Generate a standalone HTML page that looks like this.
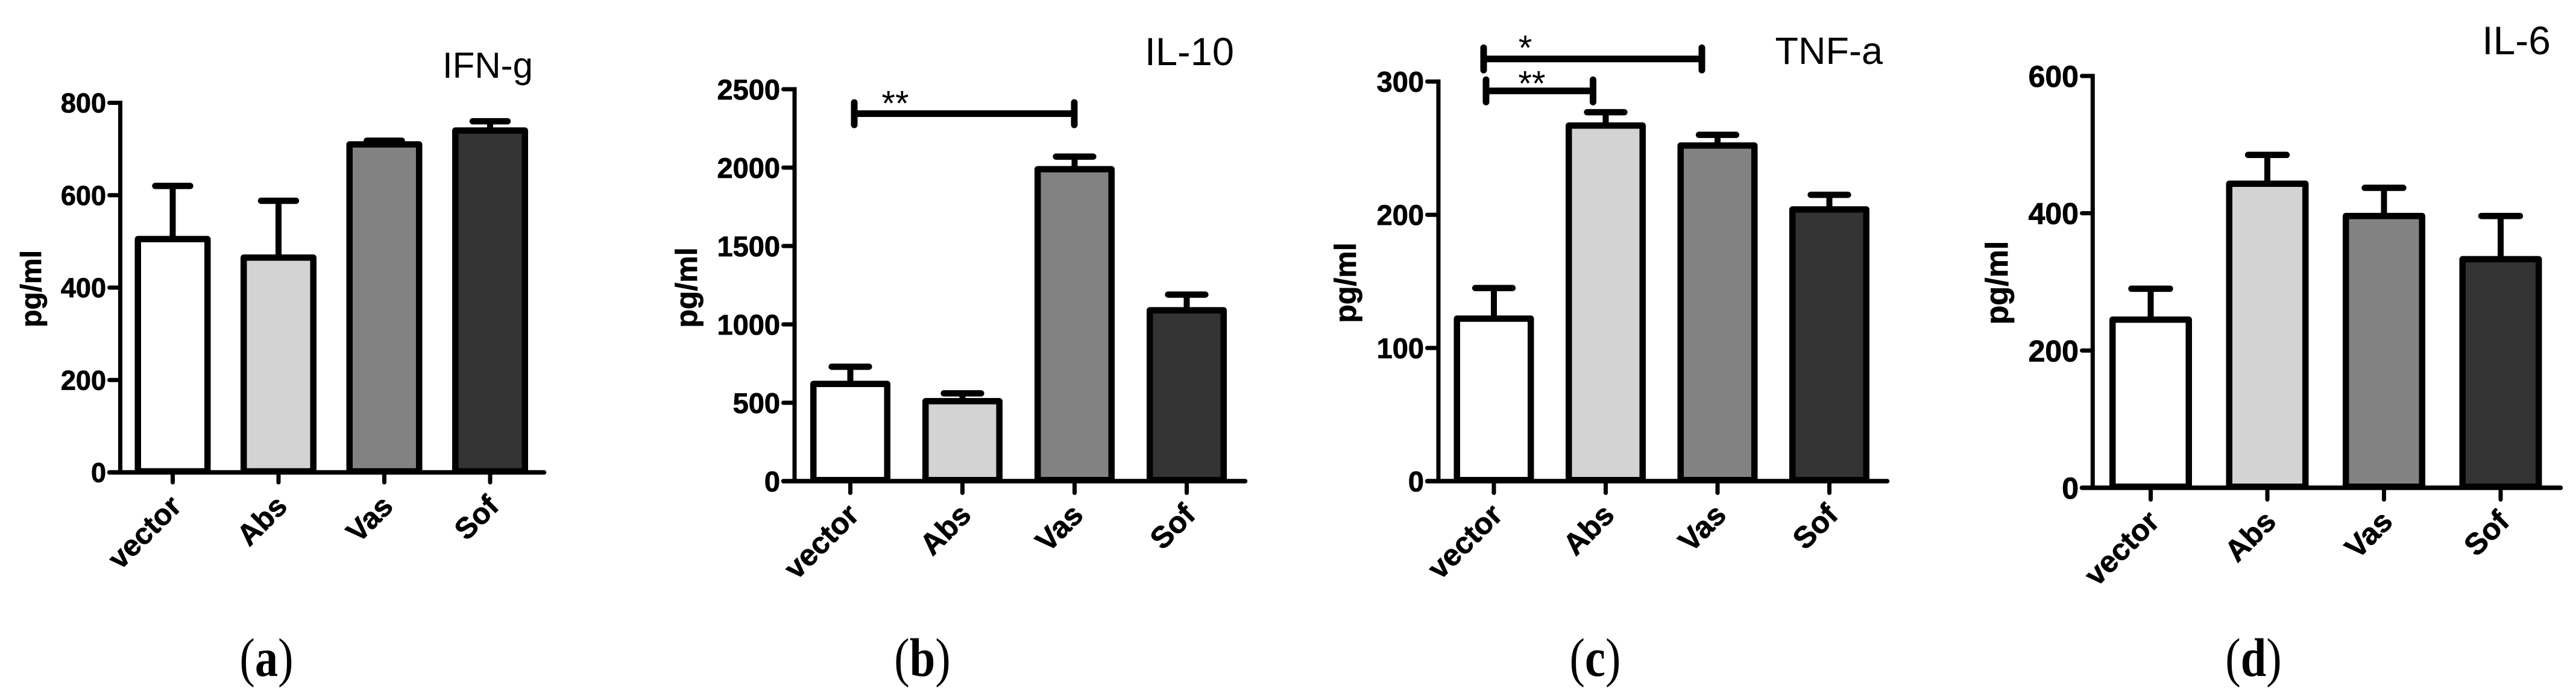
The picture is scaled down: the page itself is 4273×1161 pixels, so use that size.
<!DOCTYPE html>
<html lang="en">
<head>
<meta charset="utf-8">
<title>Cytokine levels</title>
<style>
html,body{margin:0;padding:0;background:#fff;width:4273px;height:1161px;overflow:hidden}
svg{display:block}
.tick,.ylab,.cat{font-family:"Liberation Sans",sans-serif;font-weight:bold;fill:#000;stroke:#000;stroke-width:0.8px}
.title{font-family:"Liberation Sans",sans-serif;fill:#000}
.star{font:58px "Liberation Sans",sans-serif;fill:#000}
.panel{font:90px "Liberation Serif",serif;fill:#000}
</style>
</head>
<body>
<svg id="figure" xmlns="http://www.w3.org/2000/svg" width="4273" height="1161" viewBox="0 0 4273 1161">
  <rect width="4273" height="1161" fill="#ffffff"/>
  <text class="panel" text-anchor="middle" transform="translate(442 1121) scale(0.85 1)">(<tspan font-weight="bold">a</tspan>)</text>
  <text class="panel" text-anchor="middle" transform="translate(1530 1121) scale(0.85 1)">(<tspan font-weight="bold">b</tspan>)</text>
  <text class="panel" text-anchor="middle" transform="translate(2646 1121) scale(0.85 1)">(<tspan font-weight="bold">c</tspan>)</text>
  <text class="panel" text-anchor="middle" transform="translate(3738 1121) scale(0.85 1)">(<tspan font-weight="bold">d</tspan>)</text>
</svg>
<script>
// Shared data
const categories = ['vector', 'Abs', 'Vas', 'Sof'];

const ifnValues = [505, 465, 710, 740];
const ifnErrors = [620, 588, 718, 760];
const ifnTicks = [0, 200, 400, 600, 800];

const il10Values = [620, 510, 1990, 1090];
const il10Errors = [730, 560, 2070, 1190];
const il10Ticks = [0, 500, 1000, 1500, 2000, 2500];

const tnfValues = [122, 267, 252, 204];
const tnfErrors = [145, 277, 260, 215];
const tnfTicks = [0, 100, 200, 300];

const il6Values = [245, 443, 396, 333];
const il6Errors = [290, 485, 437, 396];
const il6Ticks = [0, 200, 400, 600];

const il10Brackets = [{ from: 0, to: 2, level: 2344, label: '**' }];
const tnfBrackets = [
  { from: 0, to: 2, level: 317, label: '*' },
  { from: 0, to: 1, level: 293, label: '**' }
];

// Layout and style (kept apart from the data)
const barFills = ['#ffffff', '#d3d3d3', '#828282', '#333333'];
const il10BracketLayout = [{ dx1: 6.5, dx2: -0.5, labelDx: 68, labelDy: 3 }];
const tnfBracketLayout = [
  { dx1: -17, dx2: -26, labelDx: 69, labelDy: 2 },
  { dx1: -13, dx2: -21, labelDx: 76, labelDy: 7.5 }
];
const panels = [
  { key: 'ifn-g', title: 'IFN-g', values: ifnValues, errors: ifnErrors, ticks: ifnTicks, brackets: [], bracketLayout: [],
    axisX: 199.5, y0: 783.5, yTop: 170.5, xStart: 178, xEnd: 906, cat0: 286.5, catStep: 175.5, barW: 126, tickLen: 20,
    tickFont: 45, catFont: 49, ylabFont: 48, titleFont: 60,
    titleX: 884, titleY: 129, ylabX: 68, ylabY: 479 },
  { key: 'il-10', title: 'IL-10', values: il10Values, errors: il10Errors, ticks: il10Ticks, brackets: il10Brackets, bracketLayout: il10BracketLayout,
    axisX: 1318, y0: 798, yTop: 148, xStart: 1296, xEnd: 2069, cat0: 1410.5, catStep: 186, barW: 133, tickLen: 23,
    tickFont: 47, catFont: 50, ylabFont: 50, titleFont: 65,
    titleX: 2047, titleY: 108, ylabX: 1156, ylabY: 477 },
  { key: 'tnf-a', title: 'TNF-a', values: tnfValues, errors: tnfErrors, ticks: tnfTicks, brackets: tnfBrackets, bracketLayout: tnfBracketLayout,
    axisX: 2386, y0: 798, yTop: 135.3, xStart: 2364, xEnd: 3134, cat0: 2478, catStep: 185.5, barW: 133, tickLen: 23,
    tickFont: 47, catFont: 50, ylabFont: 50, titleFont: 63,
    titleX: 3123, titleY: 106, ylabX: 2249, ylabY: 469 },
  { key: 'il-6', title: 'IL-6', values: il6Values, errors: il6Errors, ticks: il6Ticks, brackets: [], bracketLayout: [],
    axisX: 3471.3, y0: 809, yTop: 126, xStart: 3450, xEnd: 4251, cat0: 3567.5, catStep: 193.5, barW: 137, tickLen: 23,
    tickFont: 50, catFont: 50, ylabFont: 52, titleFont: 66,
    titleX: 4231, titleY: 90, ylabX: 3330, ylabY: 469 }
];

const SVG_NS = 'http://www.w3.org/2000/svg';
const figure = document.getElementById('figure');

function make(parent, tag, attrs) {
  const el = document.createElementNS(SVG_NS, tag);
  for (const k in attrs) el.setAttribute(k, attrs[k]);
  parent.appendChild(el);
  return el;
}

function drawPanel(p) {
  const maxTick = p.ticks[p.ticks.length - 1];
  const yScale = v => p.y0 - (v / maxTick) * (p.y0 - p.yTop);
  const xScale = i => p.cat0 + i * p.catStep;
  const barStroke = 10.5;
  const capHalf = p.barW * 0.27 - 5;

  const g = make(figure, 'g', {});
  
  

  // Error bars sit behind the bars
  p.values.forEach((v, i) => {
    const stem = make(g, 'line', { x1: xScale(i), x2: xScale(i), y1: yScale(v), y2: yScale(p.errors[i]), stroke: '#000', 'stroke-width': 10 });
    
    
    const cap = make(g, 'line', { x1: xScale(i) - capHalf, x2: xScale(i) + capHalf, y1: yScale(p.errors[i]), y2: yScale(p.errors[i]), stroke: '#000', 'stroke-width': 10.5, 'stroke-linecap': 'round' });
    
    
  });

  // Bars
  p.values.forEach((v, i) => {
    const top = yScale(v);
    const bottom = p.y0 - 1.75;
    const bar = make(g, 'rect', { x: xScale(i) - p.barW / 2 + barStroke / 2, y: top, width: p.barW - barStroke, height: bottom - top, fill: barFills[i], stroke: '#000', 'stroke-width': barStroke, 'stroke-linejoin': 'round' });
    
    
  });

  // Y axis
  const yAxis = make(g, 'line', { x1: p.axisX, x2: p.axisX, y1: yScale(maxTick) - 3.5, y2: p.y0, stroke: '#000', 'stroke-width': 7 });
  
  
  p.ticks.forEach(t => {
    const mark = make(g, 'line', { x1: p.xStart + 3.5, x2: p.axisX, y1: yScale(t), y2: yScale(t), stroke: '#000', 'stroke-width': 7, 'stroke-linecap': 'round' });
    
    
    const label = make(g, 'text', { class: 'tick', 'font-size': p.tickFont, x: p.xStart - 2, y: yScale(t) + p.tickFont * 0.36, 'text-anchor': 'end' });
    
    
    label.textContent = t;
  });

  // X axis
  const xAxis = make(g, 'line', { x1: p.xStart + 3.5, x2: p.xEnd - 3.5, y1: p.y0, y2: p.y0, stroke: '#000', 'stroke-width': 7.5, 'stroke-linecap': 'round' });
  
  
  categories.forEach((c, i) => {
    const mark = make(g, 'line', { x1: xScale(i), x2: xScale(i), y1: p.y0, y2: p.y0 + p.tickLen - 3.5, stroke: '#000', 'stroke-width': 7, 'stroke-linecap': 'round' });
    
    
    const ax = xScale(i) + 17;
    const ay = p.y0 + 59;
    const label = make(g, 'text', { class: 'cat', 'font-size': p.catFont, x: ax, y: ay, 'text-anchor': 'end', transform: 'rotate(-45 ' + ax + ' ' + ay + ')' });
    
    
    label.textContent = c;
  });

  // Y-axis title
  const ylab = make(g, 'text', { class: 'ylab', 'font-size': p.ylabFont, x: p.ylabX, y: p.ylabY, 'text-anchor': 'middle', transform: 'rotate(-90 ' + p.ylabX + ' ' + p.ylabY + ')' });
  
  
  ylab.textContent = 'pg/ml';

  // Chart title
  const title = make(g, 'text', { class: 'title', 'font-size': p.titleFont, x: p.titleX, y: p.titleY, 'text-anchor': 'end' });
  
  
  title.textContent = p.title;

  // Significance brackets
  p.brackets.forEach((b, n) => {
    const L = p.bracketLayout[n];
    const x1 = xScale(b.from) + L.dx1;
    const x2 = xScale(b.to) + L.dx2;
    const y = yScale(b.level);
    const line = make(g, 'line', { x1: x1, x2: x2, y1: y, y2: y, stroke: '#000', 'stroke-width': 11 });
    
    
    [x1, x2].forEach(x => {
      const end = make(g, 'line', { x1: x, x2: x, y1: y - 18.5, y2: y + 18.5, stroke: '#000', 'stroke-width': 11, 'stroke-linecap': 'round' });
      
      
    });
    const star = make(g, 'text', { class: 'star', x: x1 + L.labelDx, y: y + L.labelDy, 'text-anchor': 'middle' });
    
    
    star.textContent = b.label;
  });
}

panels.forEach(drawPanel);
</script>
</body>
</html>
